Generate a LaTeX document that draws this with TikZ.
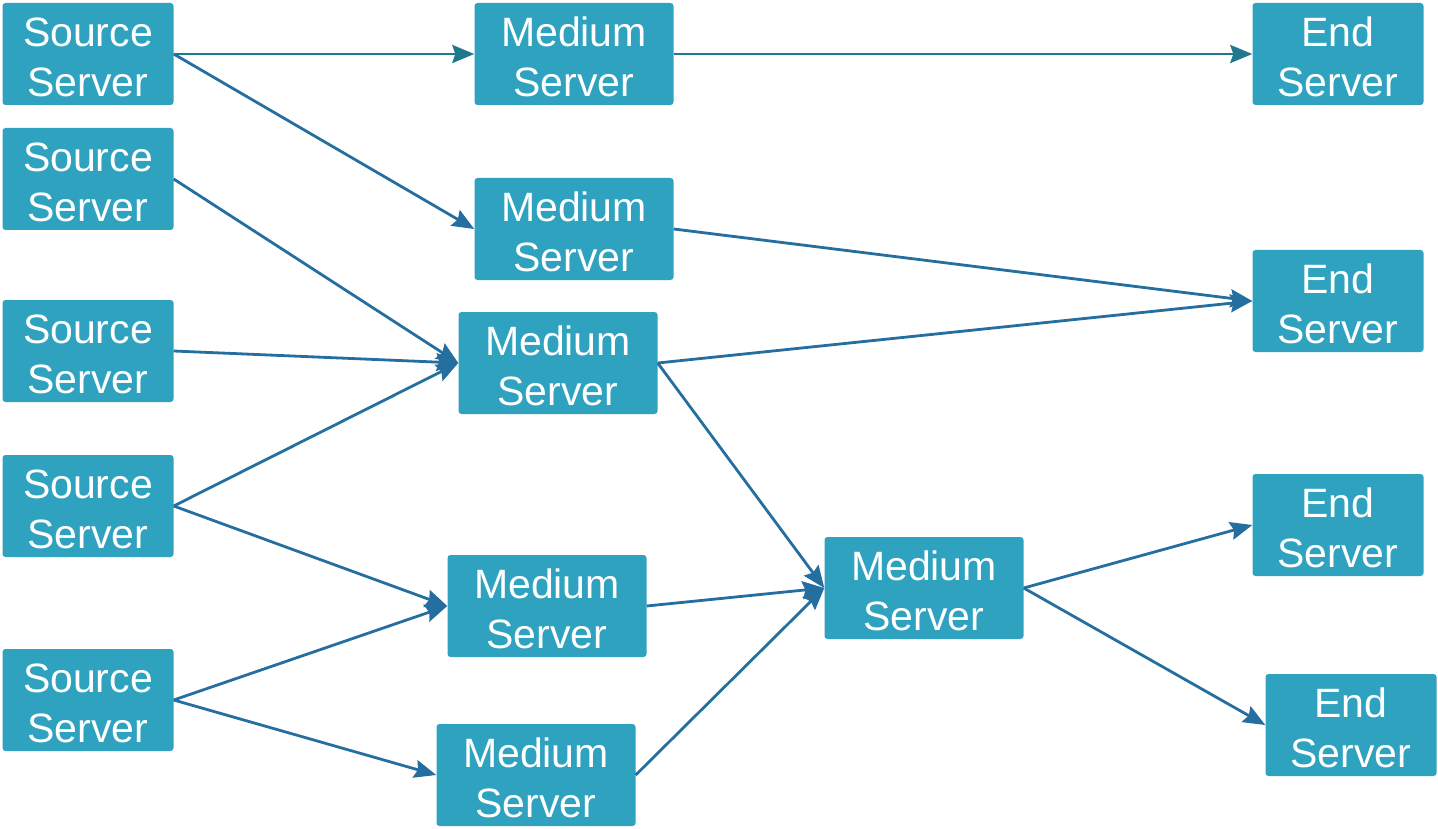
\documentclass[tikz,border=0pt]{standalone}
\usepackage{fontspec}
\setmainfont{Liberation Sans}
\usetikzlibrary{arrows.meta}
\definecolor{boxfill}{RGB}{46,162,191}
\definecolor{linkblue}{RGB}{36,110,160}
\definecolor{linkteal}{RGB}{31,120,140}
% invisible strut that lowers the two-line labels a little
\newcommand{\toppad}{\rule{0pt}{34.5pt}}
\begin{document}
\begin{tikzpicture}[x=1pt,y=-1pt,
  server/.style={fill=boxfill, rounded corners=3pt, minimum height=102pt,
    inner sep=0pt, text=white, align=center,
    font=\fontsize{41}{50}\selectfont},
  srcbox/.style={server, minimum width=171pt},
  midbox/.style={server, minimum width=199pt},
  endbox/.style={server, minimum width=171pt},
  link/.style={draw=linkblue, line width=2.8pt,
    -{Stealth[length=22pt,width=18pt,inset=3pt]}},
  straight/.style={link, draw=linkteal}]
\useasboundingbox (0,0) rectangle (1438,829);

% source servers
\node[srcbox] (s1) at (88,54)  {\toppad Source\\Server};
\node[srcbox] (s2) at (88,179) {\toppad Source\\Server};
\node[srcbox] (s3) at (88,351) {\toppad Source\\Server};
\node[srcbox] (s4) at (88,506) {\toppad Source\\Server};
\node[srcbox] (s5) at (88,700) {\toppad Source\\Server};

% medium servers
\node[midbox] (m1) at (574,54)  {\toppad Medium\\Server};
\node[midbox] (m2) at (574,229) {\toppad Medium\\Server};
\node[midbox] (m3) at (558,363) {\toppad Medium\\Server};
\node[midbox] (m4) at (547,606) {\toppad Medium\\Server};
\node[midbox] (m5) at (536,775) {\toppad Medium\\Server};
\node[midbox] (m6) at (924,588) {\toppad Medium\\Server};

% end servers
\node[endbox] (e1) at (1338,54)  {\toppad End\\Server};
\node[endbox] (e2) at (1338,301) {\toppad End\\Server};
\node[endbox] (e3) at (1338,525) {\toppad End\\Server};
\node[endbox] (e4) at (1351,725) {\toppad End\\Server};

% connections
\draw[straight] (s1.east) -- (m1.west);
\draw[link] (s1.east) -- (m2.west);
\draw[link] (s2.east) -- (m3.west);
\draw[link] (s3.east) -- (m3.west);
\draw[link] (s4.east) -- (m3.west);
\draw[link] (s4.east) -- (m4.west);
\draw[link] (s5.east) -- (m4.west);
\draw[link] (s5.east) -- (m5.west);
\draw[straight] (m1.east) -- (e1.west);
\draw[link] (m2.east) -- (e2.west);
\draw[link] (m3.east) -- (e2.west);
\draw[link] (m3.east) -- (m6.west);
\draw[link] (m4.east) -- (m6.west);
\draw[link] (m5.east) -- (m6.west);
\draw[link] (m6.east) -- (e3.west);
\draw[link] (m6.east) -- (e4.west);
\end{tikzpicture}
\end{document}
